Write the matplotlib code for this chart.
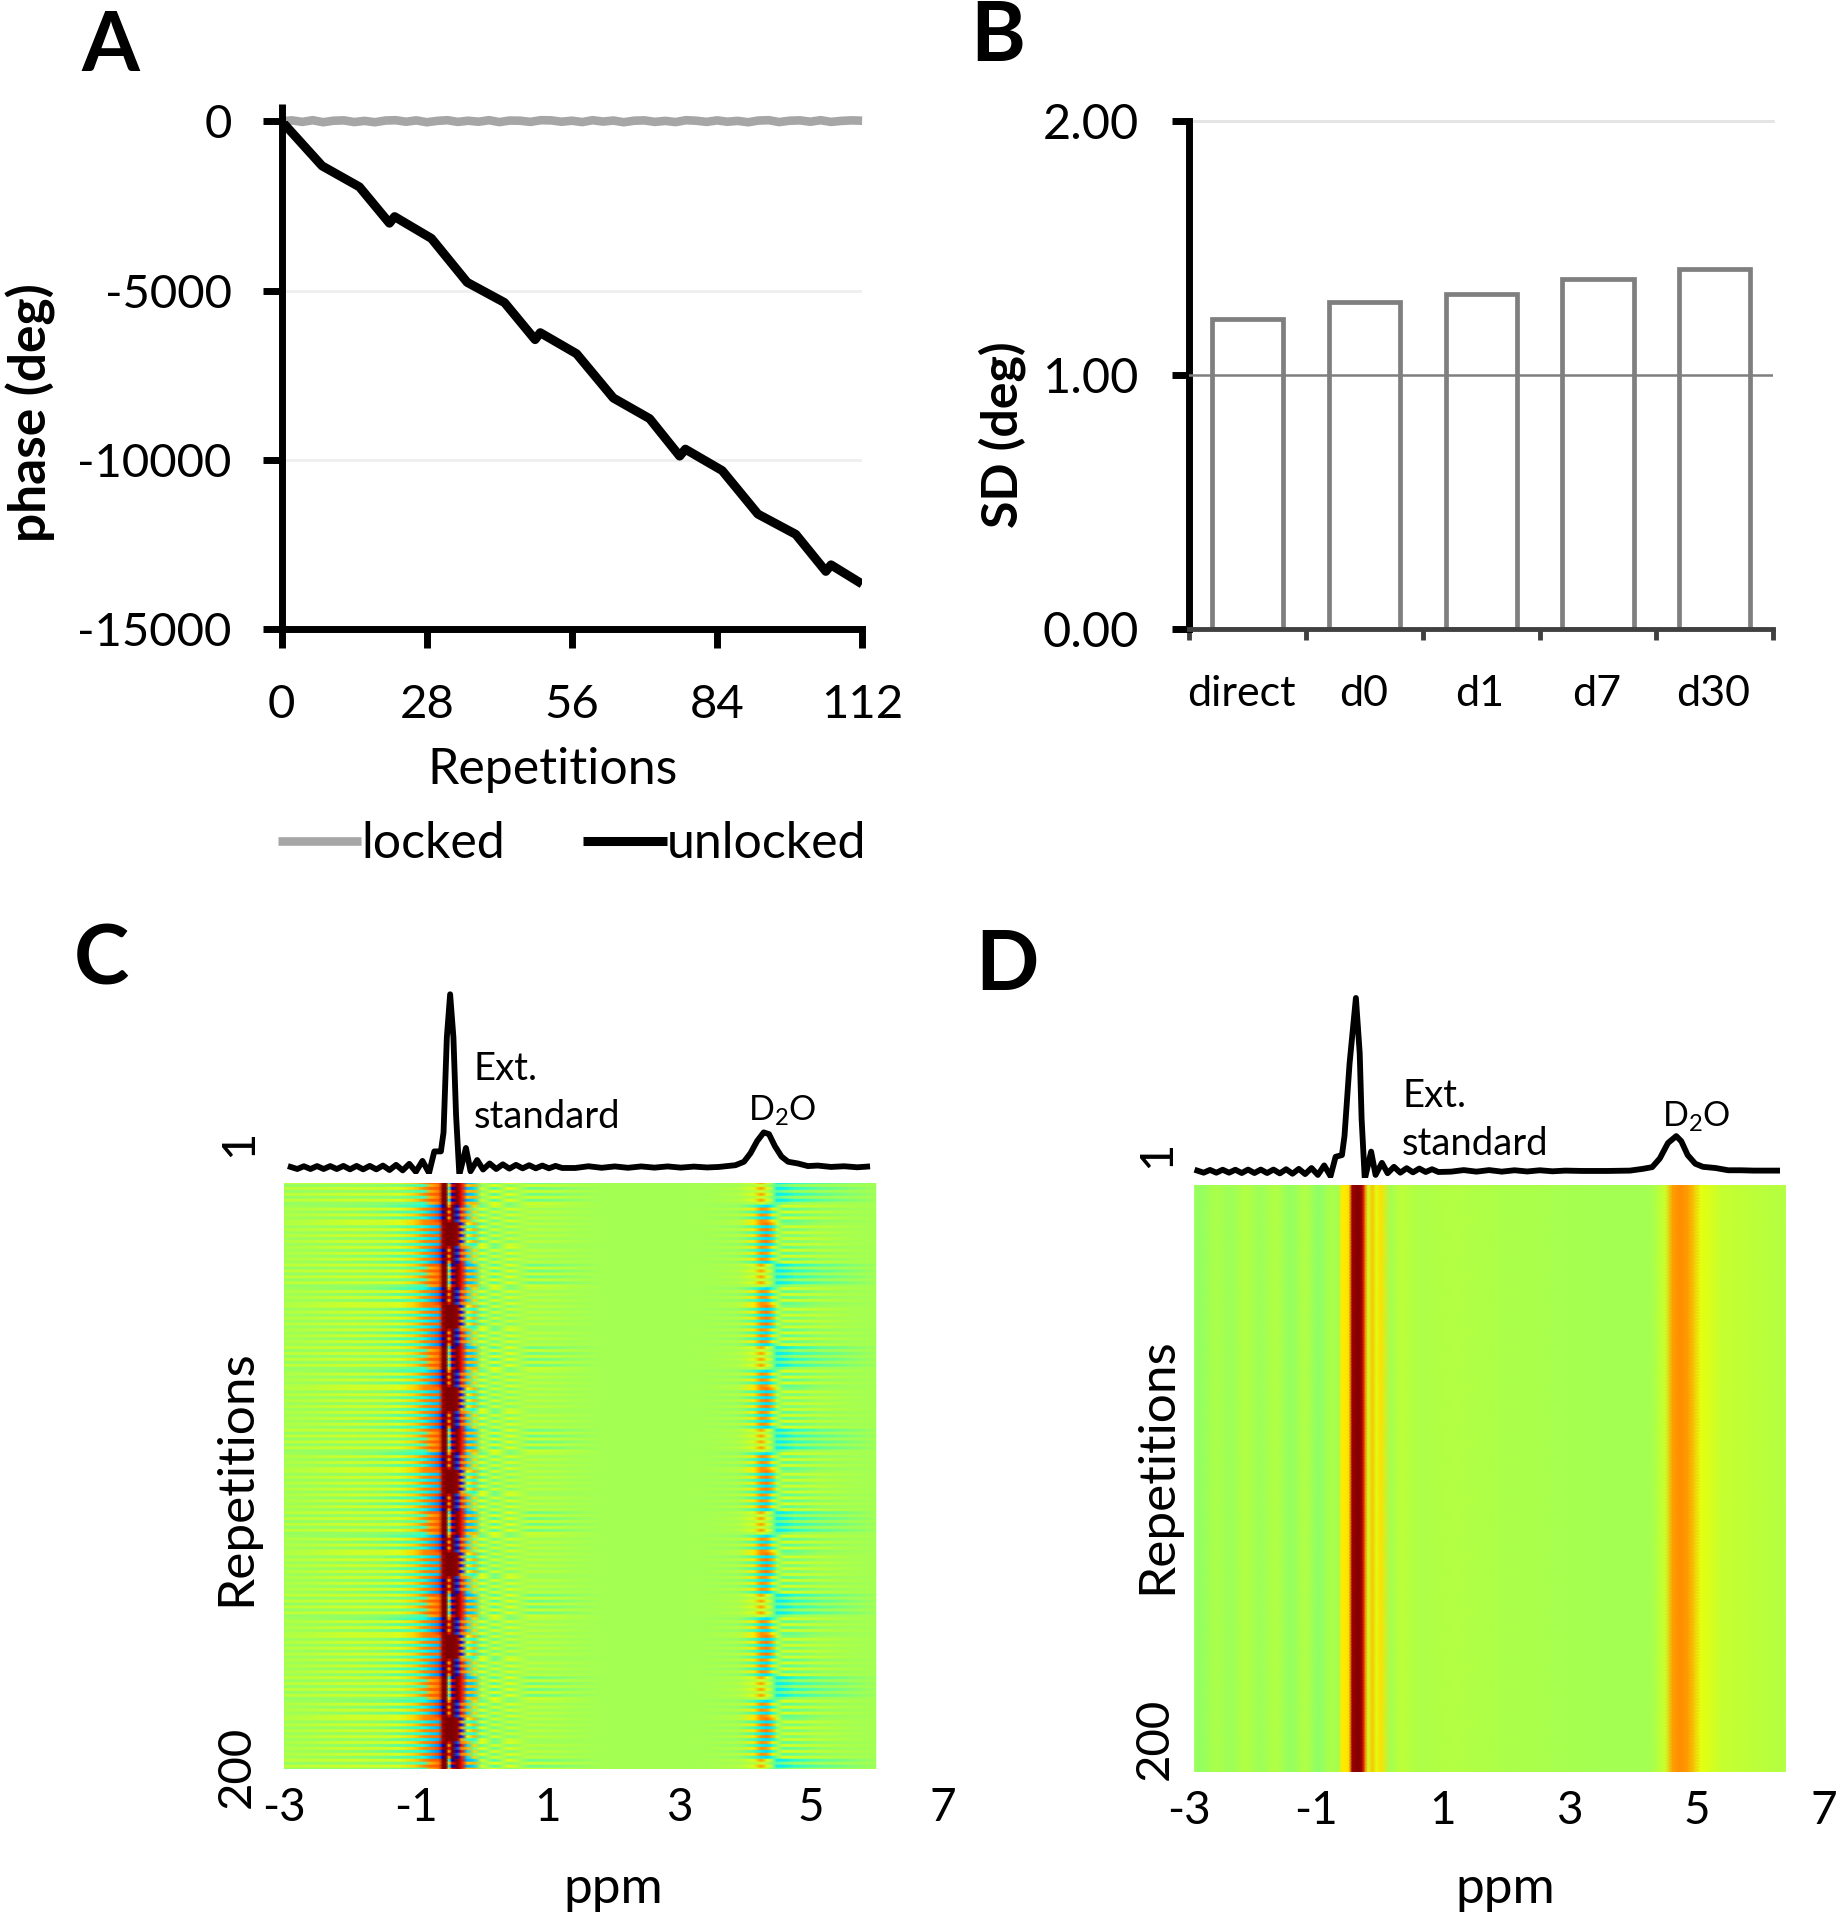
import matplotlib
matplotlib.use("Agg")
import matplotlib.pyplot as plt
import numpy as np

plt.rcParams['font.family'] = ['Lato', 'DejaVu Sans']
plt.rcParams['mathtext.default'] = 'regular'
plt.rcParams['axes.unicode_minus'] = False

# panel A
rep_unlocked = [0, 7.8, 15, 20.8, 21.8, 28.9, 35.8, 43, 48.9, 49.9, 56.9, 64, 71, 76.8, 77.9, 85, 91.9, 99.2, 105, 106, 112]
phase_unlocked = [0, -1318, -1938, -3009, -2817, -3460, -4756, -5353, -6446, -6243, -6863, -8170, -8779, -9884, -9681,
                  -10312, -11597, -12194, -13287, -13096, -13660]
rep_locked = [0, 2, 4, 6, 8, 10, 12, 14, 16, 18, 20, 22, 24, 26, 28, 30, 32, 34, 36, 38, 40, 42, 44, 46, 48, 50, 52, 54, 56,
              58, 60, 62, 64, 66, 68, 70, 72, 74, 76, 78, 80, 82, 84, 86, 88, 90, 92, 94, 96, 98, 100, 102, 104, 106, 108, 110, 112]
phase_locked = [0, 25, -20, 30, -30, 15, 25, -25, 10, -30, 20, 30, -15, 25, -30, 10, 30, -20, 15, -15, 30, -25, 20, 15,
                -20, 30, 25, -15, 15, -25, 30, -10, 20, -30, 15, 25, -20, 10, -25, 30, 15, -20, 25, -15, 10, -30, 20, 30,
                -25, 15, 25, -15, 30, -20, 10, 25, 15]

# panel B
sd_labels = ['direct', 'd0', 'd1', 'd7', 'd30']
sd_label_pos = [0.45, 1.49, 2.49, 3.49, 4.49]
sd_values = [1.22, 1.29, 1.32, 1.38, 1.42]

# panel C spectrum
c_spec_ppm = [-2.90, -2.80, -2.70, -2.60, -2.50, -2.40, -2.30, -2.20, -2.10, -2.00, -1.90, -1.80, -1.70, -1.60, -1.50,
              -1.40, -1.30, -1.20, -1.10, -1.00, -0.90, -0.80, -0.72, -0.62, -0.58, -0.53, -0.48, -0.43, -0.39, -0.34,
              -0.24, -0.17, -0.07, 0.02, 0.12, 0.22, 0.32, 0.42, 0.52, 0.62, 0.72, 0.82, 0.92, 1.02, 1.12, 1.22, 1.42,
              1.62, 1.82, 2.02, 2.22, 2.42, 2.62, 2.82, 3.02, 3.22, 3.42, 3.60, 3.85, 3.98, 4.08, 4.18, 4.28, 4.36,
              4.45, 4.55, 4.65, 4.80, 4.95, 5.10, 5.30, 5.50, 5.70, 5.85]
c_spec_int = [0.0, -0.012, 0.004, -0.012, 0.005, -0.012, 0.005, -0.012, 0.006, -0.014, 0.006, -0.014, 0.006, -0.014, 0.008,
              -0.018, 0.012, -0.020, 0.018, -0.028, 0.035, -0.035, 0.09, 0.09, 0.20, 0.75, 1.0, 0.75, 0.30, -0.045,
              0.11, -0.025, 0.04, -0.015, 0.02, -0.012, 0.015, -0.010, 0.012, -0.008, 0.010, -0.008, 0.008, -0.008, 0.006,
              -0.006, -0.006, 0.004, -0.005, 0.003, -0.005, 0.003, -0.004, 0.003, -0.004, 0.002, -0.003, 0.0, 0.01, 0.03,
              0.08, 0.15, 0.20, 0.19, 0.12, 0.06, 0.03, 0.02, 0.005, 0.008, 0.0, 0.004, -0.002, 0.002]

# panel D spectrum
d_spec_ppm = [-2.87, -2.77, -2.67, -2.57, -2.47, -2.37, -2.27, -2.17, -2.07, -1.97, -1.87, -1.77, -1.67, -1.57, -1.47,
              -1.37, -1.27, -1.17, -1.07, -0.97, -0.87, -0.77, -0.69, -0.59, -0.55, -0.47, -0.37, -0.31, -0.28, -0.23,
              -0.13, -0.06, 0.04, 0.13, 0.23, 0.33, 0.43, 0.53, 0.63, 0.73, 0.83, 0.93, 1.13, 1.33, 1.53, 1.73, 1.93,
              2.13, 2.33, 2.53, 2.73, 2.93, 3.20, 3.60, 3.95, 4.15, 4.30, 4.42, 4.55, 4.68, 4.76, 4.86, 4.98, 5.10, 5.30,
              5.50, 5.70, 5.90, 6.27]
d_spec_int = [0.0, -0.012, 0.004, -0.012, 0.005, -0.012, 0.005, -0.014, 0.006, -0.014, 0.006, -0.014, 0.006, -0.016, 0.008,
              -0.018, 0.010, -0.020, 0.015, -0.025, 0.030, -0.032, 0.08, 0.09, 0.20, 0.62, 1.0, 0.68, 0.30, -0.05,
              0.11, -0.025, 0.045, -0.015, 0.022, -0.012, 0.014, -0.010, 0.012, -0.008, 0.008, -0.008, -0.006, 0.003,
              -0.006, 0.003, -0.006, 0.002, -0.005, 0.002, -0.004, 0.0, -0.002, -0.002, 0.0, 0.01, 0.02, 0.07, 0.16, 0.20,
              0.17, 0.09, 0.04, 0.022, 0.015, 0.002, 0.002, 0.0, 0.0]

# panel C heatmap columns and row kinds
c_ppm = [-3.0, -2.01, -1.56, -1.25, -1.03, -0.88, -0.77, -0.65, -0.59, -0.54, -0.50, -0.45, -0.37, -0.31, -0.22, -0.12,
         0.0, 0.19, 0.41, 0.72, 1.78, 3.30, 3.90, 4.13, 4.24, 4.33, 4.41, 4.48, 4.58, 4.74, 5.12, 5.57, 5.98]
split_a = [.58, .60, .60, .62, .68, .76, .80, .82, 1.0, 1.0, .42, .06, 1.0, .90, .30, .34, .62, .44, .64, .48, .55, .55, .57, .62, .74, .62, .56, .36, .36, .40, .46, .50, .54]
split_b = [.53, .53, .52, .50, .46, .42, .72, .78, 1.0, .98, .60, .90, 1.0, .90, .70, .72, .50, .64, .50, .60, .55, .55, .55, .57, .60, .56, .50, .46, .50, .54, .55, .55, .55]
dot_a = [.55, .52, .50, .46, .42, .38, .32, .26, .06, 1.0, .72, 1.0, .06, .90, .34, .68, .46, .62, .50, .58, .55, .55, .53, .44, .36, .34, .38, .50, .62, .60, .58, .56, .55]
dot_b = [.56, .60, .60, .62, .68, .76, .78, .84, .97, 1.0, .90, 1.0, .20, .78, .72, .48, .64, .48, .62, .54, .55, .55, .57, .66, .76, .74, .66, .58, .46, .48, .52, .54, .55]
thick_a = [.57, .60, .60, .62, .68, .76, .78, .80, .98, 1.0, 1.0, 1.0, .98, .10, .64, .72, .44, .62, .50, .58, .55, .55, .57, .66, .76, .78, .72, .60, .50, .50, .54, .55, .55]
thick_b = [.54, .53, .52, .48, .42, .38, .34, .30, .95, 1.0, 1.0, 1.0, .98, .74, .44, .38, .64, .48, .60, .54, .55, .55, .53, .44, .36, .34, .36, .48, .60, .60, .58, .56, .55]
row_kinds = [split_a, split_b, dot_a, dot_b, thick_a, thick_b]
# one 28 repetition phase cycle, indexes into row_kinds
row_cycle = [0, 1, 0, 1, 0, 1, 0, 1, 2, 3, 2, 3, 2, 3, 4, 5, 4, 5, 4, 5, 4, 5, 3, 2, 3, 2, 3, 2]

# panel D heatmap columns
d_ppm = [-2.91, -2.83, -2.59, -2.35, -2.12, -1.88, -1.64, -1.41, -1.17, -0.97, -0.78, -0.65, -0.59, -0.48, -0.43, -0.33,
         -0.27, -0.22, -0.18, -0.11, -0.05, 0.01, 0.17, 0.33, 0.64, 1.12, 1.91, 3.48, 4.27, 4.51, 4.62, 4.74, 4.87, 5.06,
         5.38, 5.85, 6.40]
d_values = [.54, .53, .56, .54, .57, .54, .57, .53, .57, .52, .56, .55, .66, .67, .97, 1.0, .96, .76, .60, .70, .62, .67,
            .55, .58, .56, .57, .56, .55, .55, .60, .74, .76, .74, .63, .59, .58, .57]

W, H = 1505.0, 1568.0


def box(left, right, top, bottom):
    # positions measured on the 1505x1568 view
    return [left / W, 1 - bottom / H, (right - left) / W, (bottom - top) / H]


def label(x, y, s, **kw):
    fig.text(x / W, 1 - y / H, s, ha='center', va='center', **kw)


fig = plt.figure(figsize=(18.43, 19.2), dpi=100)

# A
ax = fig.add_axes(box(230, 704, 99, 514))
ax.axhline(-5000, color='#EFEFEF', lw=2, zorder=1)
ax.axhline(-10000, color='#EFEFEF', lw=2, zorder=1)
ax.plot(rep_locked, phase_locked, color='#A6A6A6', lw=6.2, label='locked', clip_on=False, zorder=2, solid_capstyle='butt')
ax.plot(rep_unlocked, phase_unlocked, color='black', lw=6.5, label='unlocked', zorder=3, solid_capstyle='butt')
# the y axis line runs a little past zero
ax.plot([0, 0], [0, 500], color='black', lw=5, clip_on=False, solid_capstyle='butt')
ax.set_xlim(0, 112)
ax.set_ylim(-15000, 0)
ax.set_xticks([0, 28, 56, 84, 112])
ax.set_yticks([0, -5000, -10000, -15000])
ax.tick_params(labelsize=34, width=5, length=14)
ax.tick_params(axis='y', pad=22)
ax.tick_params(axis='x', pad=25)
for s in ['top', 'right']:
    ax.spines[s].set_visible(False)
for s in ['left', 'bottom']:
    ax.spines[s].set_linewidth(5)
ax.set_xlabel('Repetitions', fontsize=36)
ax.xaxis.set_label_coords(0.467, -0.232)
ax.legend(loc='center', bbox_to_anchor=(0.5, -0.423), frameon=False, ncol=2, fontsize=36,
          handlelength=1.67, handletextpad=0.0, columnspacing=1.57)
label(25, 337, 'phase (deg)', fontsize=37, fontweight='bold', rotation=90)

# B
ax = fig.add_axes(box(971, 1448, 99, 514))
pos = np.arange(len(sd_values)) + 0.5
ax.bar(pos, sd_values, width=0.61, facecolor='white', edgecolor='#7F7F7F', lw=3.4, zorder=2)
ax.axhline(2, color='#E4E4E4', lw=2, zorder=1, clip_on=False)
ax.axhline(1, color='#7F7F7F', lw=1.8, zorder=3)
ax.set_xlim(0, 5)
ax.set_ylim(0, 2)
ax.set_yticks([0, 1, 2])
ax.set_yticklabels(['0.00', '1.00', '2.00'])
ax.set_xticks(np.arange(6))
ax.set_xticklabels([])
ax.set_xticks(sd_label_pos, sd_labels, minor=True)
ax.tick_params(axis='y', labelsize=35, width=5, length=12, pad=24)
ax.tick_params(axis='x', which='major', width=3.5, length=8, color='#404040')
ax.tick_params(axis='x', which='minor', length=0, labelsize=31, pad=33)
for s in ['top', 'right']:
    ax.spines[s].set_visible(False)
ax.spines['left'].set_linewidth(5)
ax.spines['bottom'].set_linewidth(3.5)
ax.spines['bottom'].set_color('#404040')
label(818, 355, 'SD (deg)', fontsize=36, fontweight='bold', rotation=90)


def heat_axes(left, right, top, bottom, ppm, z):
    a = fig.add_axes(box(left, right, top, bottom))
    # every row held flat for most of its height so the stripes stay distinct
    rows = np.arange(1, z.shape[0] + 1)
    y = np.ravel(np.column_stack([rows - 0.3, rows + 0.3]))
    a.pcolormesh(ppm, y, np.repeat(z, 2, axis=0), shading='gouraud', cmap='jet', vmin=0, vmax=1, rasterized=True)
    a.set_xlim(-3, 7)
    a.set_ylim(200, 1)
    a.set_xticks([-3, -1, 1, 3, 5, 7])
    a.set_yticks([])
    a.tick_params(length=0, labelsize=33, pad=13)
    for s in a.spines.values():
        s.set_visible(False)
    a.patch.set_alpha(0)
    return a


def spec_axes(left, right, base, peak, ppm, intensity):
    a = fig.add_axes(box(left, right, peak - 6, base + 6))
    # keep 6 view pixels of room above and below the line
    span = 6.0 / (base - peak)
    a.plot(ppm, intensity, color='black', lw=4.2, solid_joinstyle='round')
    a.set_xlim(-3, 7)
    a.set_ylim(-span, 1 + span)
    a.axis('off')
    return a


# C
z_c = np.array([row_kinds[k] for k in np.resize(row_cycle, 200)])
heat_axes(232, 770, 966, 1445, c_ppm, z_c)
spec_axes(232, 770, 953, 812, c_spec_ppm, c_spec_int)
label(195, 934, '1', fontsize=34, rotation=90)
label(193, 1443, '200', fontsize=34, rotation=90)
label(193, 1207, 'Repetitions', fontsize=37, rotation=90)
label(501, 1543, 'ppm', fontsize=37)
fig.text(387 / W, 1 - 873 / H, 'Ext.', fontsize=27.5, va='center')
fig.text(387 / W, 1 - 912 / H, 'standard', fontsize=27.5, va='center')
label(639, 907, 'D$_2$O', fontsize=24.5)

# D
z_d = np.tile(d_values, (200, 1))
heat_axes(971, 1489, 968, 1447, d_ppm, z_d)
spec_axes(971, 1489, 956, 815, d_spec_ppm, d_spec_int)
label(945, 943, '1', fontsize=34, rotation=90)
label(943, 1420, '200', fontsize=34, rotation=90)
label(945, 1197, 'Repetitions', fontsize=37, rotation=90)
label(1229, 1543, 'ppm', fontsize=37)
fig.text(1145 / W, 1 - 895 / H, 'Ext.', fontsize=27.5, va='center')
fig.text(1145 / W, 1 - 934 / H, 'standard', fontsize=27.5, va='center')
label(1385, 912, 'D$_2$O', fontsize=24.5)

# panel letters
label(90, 39, 'A', fontsize=60, fontweight='bold')
label(815, 31, 'B', fontsize=60, fontweight='bold')
label(83, 785, 'C', fontsize=60, fontweight='bold')
label(822, 789, 'D', fontsize=60, fontweight='bold')

fig.savefig('out.png', dpi=100)
